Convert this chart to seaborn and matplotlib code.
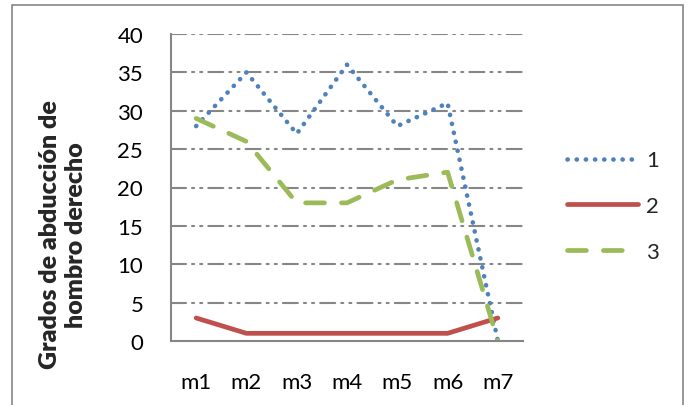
import matplotlib
matplotlib.use("Agg")
import matplotlib.pyplot as plt
from matplotlib.patches import Rectangle
import seaborn as sns
import pandas as pd

categories = ["m1", "m2", "m3", "m4", "m5", "m6", "m7"]
serie_1 = [28, 35, 27, 36, 28, 31, 0]
serie_2 = [3, 1, 1, 1, 1, 1, 3]
serie_3 = [29, 26, 18, 18, 21, 22, 0]
series_names = ["1", "2", "3"]
y_ticks = [0, 5, 10, 15, 20, 25, 30, 35, 40]

sns.set_theme(style="white")
plt.rcParams["font.family"] = ["Lato", "DejaVu Sans"]

fig = plt.figure(figsize=(6.89, 4.06), dpi=100)
ax = fig.add_axes([171/689, 1-342/406, (523-171)/689, (342-35)/406])

grid_color = "#868686"
for v in y_ticks[1:]:
    ax.axhline(v, color=grid_color, lw=1.5, linestyle=(0, (7.2, 2.9, 1, 2.9, 1, 2.9)), zorder=0)

styles = [
    dict(color="#4F81BD", lw=3.3, linestyle=(0, (0.05, 1.95))),
    dict(color="#C0504D", lw=3.4, linestyle="-"),
    dict(color="#9BBB59", lw=3.4, linestyle=(0, (4.0, 3.6))),
]
for name, vals, st in zip(series_names, [serie_1, serie_2, serie_3], styles):
    df = pd.DataFrame({"x": categories, "y": vals})
    sns.lineplot(data=df, x="x", y="y", ax=ax, label=name, sort=False, **st)

for line in ax.get_lines():
    line.set_dash_capstyle("round")
    line.set_solid_capstyle("round")
    line.set_solid_joinstyle("round")

ax.set_xlim(-0.5, 6.5)
ax.set_ylim(0, 40)
ax.set_yticks(y_ticks)
ax.set_xlabel("")
ax.set_ylabel("")
ax.tick_params(axis="both", length=0, labelsize=16, colors="black")
ax.tick_params(axis="y", pad=20)
ax.tick_params(axis="x", pad=22)
for s in ["top", "right"]:
    ax.spines[s].set_visible(False)
for s in ["left", "bottom"]:
    ax.spines[s].set_color(grid_color)
    ax.spines[s].set_linewidth(1.5)

leg = ax.legend(loc="center left", bbox_to_anchor=(567/689, 1-207/406),
                bbox_transform=fig.transFigure, frameon=False, fontsize=16,
                handlelength=3.2, handletextpad=0.35, labelspacing=1.15,
                borderpad=0, borderaxespad=0)
for h in leg.get_lines():
    h.set_dash_capstyle("round")
    h.set_solid_capstyle("round")

fig.text(63/689, 1-235/406, "Grados de abducción de\nhombro derecho", rotation=90,
         ha="center", va="center", multialignment="center", fontsize=18,
         fontweight="heavy", linespacing=1.25)

fig.patches.append(Rectangle((12/689, -0.05), (683-12)/689, 1.05-6/406,
                             transform=fig.transFigure, fill=False,
                             edgecolor=grid_color, lw=1.2))

fig.savefig("out.png", dpi=100)
